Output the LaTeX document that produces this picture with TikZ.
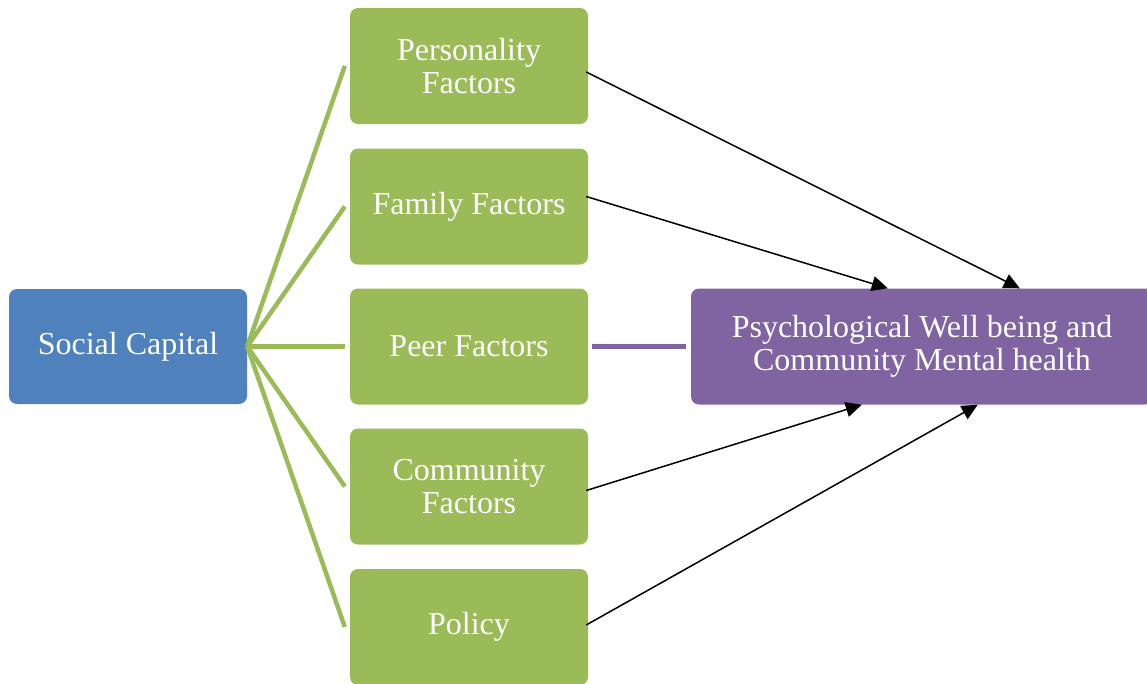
\documentclass[tikz,border=0pt]{standalone}
\usepackage{fontspec}
\setmainfont{Liberation Serif}
\usetikzlibrary{arrows.meta,calc}
\definecolor{scblue}{HTML}{4F81BD}
\definecolor{fgreen}{HTML}{9BBB59}
\definecolor{ppurple}{HTML}{8064A2}
\tikzset{
  box/.style={rectangle, rounded corners=8pt, text=white, align=center, inner sep=0pt,
    font=\fontsize{32}{33}\selectfont},
  greenbox/.style={box, fill=fgreen, minimum width=238pt, minimum height=116pt},
  glink/.style={draw=fgreen, line width=4.5pt},
  plink/.style={draw=ppurple, line width=4.5pt},
  arr/.style={draw=black, line width=1.5pt, -{Triangle[length=16pt,width=15pt]}}
}
\begin{document}
\begin{tikzpicture}[x=1pt,y=-1pt]
\useasboundingbox (0,0) rectangle (1147,683);
\clip (0,0) rectangle (1147,683);
\node[box, fill=scblue, minimum width=238pt, minimum height=115pt] (sc) at (128,346.5) {Social Capital};
\node[greenbox] (pers) at (469,66) {Personality\\Factors};
\node[greenbox] (fam) at (469,206.5) {Family Factors};
\node[greenbox] (peer) at (469,346.5) {Peer Factors};
\node[greenbox] (comm) at (469,486.5) {Community\\Factors};
\node[greenbox] (pol) at (469,627) {Policy};
\node[box, fill=ppurple, minimum width=462pt, minimum height=116pt] (psy) at (922,346.5) {Psychological Well being and\\Community Mental health};
\coordinate (hub) at (sc.east);
\draw[glink] (hub) -- ($(pers.west)+(-5,0)$);
\draw[glink] (hub) -- ($(fam.west)+(-5,0)$);
\draw[glink] (hub) -- ($(peer.west)+(-5,0)$);
\draw[glink] (hub) -- ($(comm.west)+(-5,0)$);
\draw[glink] (hub) -- ($(pol.west)+(-5,0)$);
\draw[plink] ($(peer.east)+(4,0)$) -- ($(psy.west)+(-5,0)$);
\draw[arr] ($(pers.east)+(-2,6)$) -- ($(psy.north west)+(329,0)$);
\draw[arr] ($(fam.east)+(-2,-10)$) -- ($(psy.north west)+(197,0)$);
\draw[arr] ($(comm.east)+(-2,4)$) -- ($(psy.south west)+(171,0)$);
\draw[arr] ($(pol.east)+(-2,-2)$) -- ($(psy.south west)+(287,0)$);
\end{tikzpicture}
\end{document}
